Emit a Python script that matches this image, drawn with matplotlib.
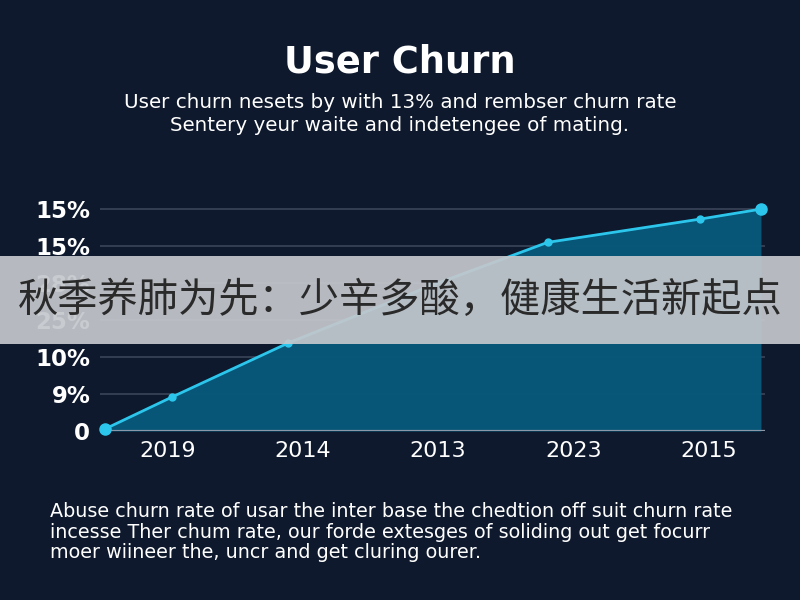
import matplotlib.pyplot as plt

# reading of the picture (y in grid steps, x in category steps)
years = ['2019', '2014', '2013', '2023', '2015']
y_labels = ['0', '9%', '10%', '25%', '28%', '15%', '15%']
churn_x = [-0.47, 0.03, 0.89, 1.94, 2.81, 3.94, 4.39]
churn_y = [0.05, 0.92, 2.38, 3.92, 5.10, 5.73, 6.00]

title = 'User Churn'
subtitle = ('User churn nesets by with 13% and rembser churn rate\n'
            'Sentery yeur waite and indetengee of mating.')
footer = ('Abuse churn rate of usar the inter base the chedtion off suit churn rate\n'
          'incesse Ther chum rate, our forde extesges of soliding out get focurr\n'
          'moer wiineer the, uncr and get cluring ourer.')
banner = '秋季养肺为先：少辛多酸，健康生活新起点'

bg = '#0e192d'
line_c = '#2cc6ec'
fill_c = '#07587a'

fig = plt.figure(figsize=(8, 6), dpi=100, facecolor=bg)
ax = fig.add_axes([100/800, 169/600, 665/800, 233/600])
ax.set_facecolor(bg)

ax.set_xlim(-0.504, 4.42)
ax.set_ylim(0, 6.3)

for i in range(1, len(y_labels)):
    ax.axhline(i, color='#3b4559', lw=1.2, zorder=1)
ax.axhline(0, color='#8b98aa', lw=1.6, zorder=4)

ax.fill_between(churn_x, churn_y, 0, color=fill_c, alpha=0.97, zorder=2, lw=0)
ax.plot(churn_x, churn_y, color=line_c, lw=2, zorder=5)
ax.plot(churn_x[1:-1], churn_y[1:-1], 'o', color=line_c, ms=5, zorder=6)
ax.plot([churn_x[0], churn_x[-1]], [churn_y[0], churn_y[-1]], 'o', color=line_c,
        ms=8, zorder=6, clip_on=False)

ax.set_yticks(range(len(y_labels)))
ax.set_yticklabels(y_labels, color='white', fontsize=16.5, fontweight='bold')
ax.set_xticks(range(len(years)))
ax.set_xticklabels(years, color='white', fontsize=16)
ax.tick_params(length=0, pad=7)
ax.tick_params(axis='y', pad=7)
for s in ax.spines.values():
    s.set_visible(False)

fig.text(0.5, 1 - 62/600, title, ha='center', va='center', color='white',
         fontsize=26.5, fontweight='bold')
fig.text(0.5, 1 - 114/600, subtitle, ha='center', va='center', color='white',
         fontsize=14.3, linespacing=1.25)
fig.text(50/800, 1 - 532/600, footer, ha='left', va='center', color='white',
         fontsize=13.8, linespacing=1.1)

# translucent banner across the middle
fig.patches.append(plt.Rectangle((0, 1 - 344/600), 1, 88/600, transform=fig.transFigure,
                                 facecolor='#c4c7cc', alpha=0.93, zorder=10))
fig.text(0.5, 1 - 300/600, banner, ha='center', va='center', color='#2a2a2a',
         fontsize=29, family=['Noto Sans CJK SC', 'DejaVu Sans'], zorder=11)

fig.savefig('out.png', dpi=100, facecolor=bg)
